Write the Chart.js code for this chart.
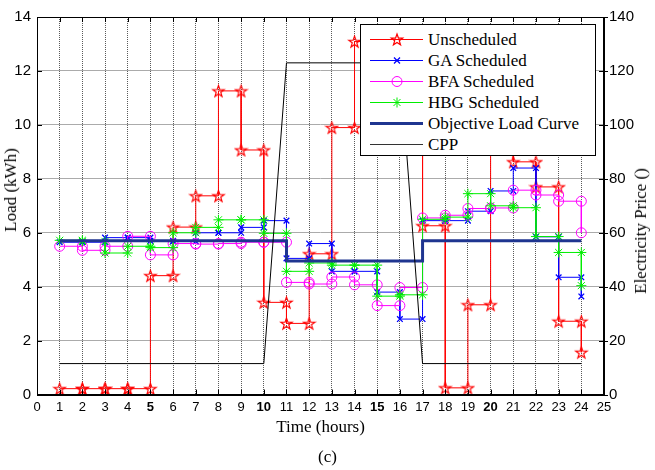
<!DOCTYPE html>
<html><head><meta charset="utf-8">
<script src="https://cdn.jsdelivr.net/npm/chart.js@4"></script>
<style>
html,body{margin:0;padding:0;background:#fff;}
#wrap{position:relative;width:655px;height:470px;overflow:hidden;}
#c{position:absolute;left:0;top:0;}
.ytitle{position:absolute;font-family:"Liberation Serif","Times New Roman",serif;font-size:17px;white-space:nowrap;color:#000;transform:translate(-50%,-50%) rotate(-90deg);}
#legend{position:absolute;left:360px;top:24px;width:236px;height:132px;background:#fff;border:1.5px solid #000;box-sizing:border-box;font-family:"Liberation Serif","Times New Roman",serif;font-size:17px;color:#000;}
.row{position:absolute;left:0;height:21px;width:234px;}
.row svg{position:absolute;left:9px;top:0;}
.row span{position:absolute;left:67px;top:0;line-height:21px;white-space:nowrap;}
</style></head>
<body>
<div id="wrap">
<canvas id="c" width="655" height="470"></canvas>
<div class="ytitle" style="left:11px;top:190px;">Load (kWh)</div>
<div class="ytitle" style="left:641px;top:231px;">Electricity Price ()</div>
<div id="legend"></div>
</div>
<script>
// ---- data (hourly values) ----
const hours = [1,2,3,4,5,6,7,8,9,10,11,12,13,14,15,16,17,18,19,20,21,22,23,24];
const unscheduled = [0.22,0.22,0.22,0.22,4.41,6.21,7.37,11.26,9.07,3.42,2.64,5.22,9.9,13.09,11.8,9.8,6.26,0.25,3.33,10.2,8.63,7.7,2.72,1.57];
const gaScheduled = [5.65,5.65,5.82,5.82,5.7,5.68,6.0,6.0,6.2,6.45,5.05,5.6,4.57,4.57,3.8,2.8,6.45,6.45,6.8,7.55,8.4,5.85,4.35,3.64];
const bfaScheduled = [5.5,5.35,5.5,5.87,5.18,5.6,5.58,5.6,5.65,5.65,4.16,4.1,4.36,4.07,3.3,3.97,6.55,6.65,6.9,6.92,7.58,7.4,7.17,6.0];
const hbgScheduled = [5.72,5.68,5.25,5.5,5.45,6.0,6.2,6.48,6.48,5.98,4.57,4.88,4.8,4.8,3.65,3.7,6.5,6.58,7.45,7.0,6.93,5.86,5.27,4.04];
const objectiveLoad = [5.7,5.7,5.7,5.7,5.7,5.7,5.7,5.7,5.7,5.7,4.95,4.95,4.95,4.95,4.95,4.95,5.7,5.7,5.7,5.7,5.7,5.7,5.7,5.7];
const cppPrice = [11.5,11.5,11.5,11.5,11.5,11.5,11.5,11.5,11.5,11.5,123,123,123,123,123,123,11.5,11.5,11.5,11.5,11.5,11.5,11.5,11.5];
const seriesNames = ['Unscheduled','GA Scheduled','BFA Scheduled','HBG Scheduled','Objective Load Curve','CPP'];
const boldHourLabels = [5,10,15,20];

// MATLAB-style stairs vertices
function stairs(xs, ys){
  const pts = [];
  for (let i = 0; i < xs.length; i++) {
    pts.push({x: xs[i], y: ys[i]});
    if (i < xs.length - 1) pts.push({x: xs[i+1], y: ys[i]});
  }
  return pts;
}
function pairs(xs, ys){ return xs.map((x,i)=>({x:x, y:ys[i]})); }

function starPoints(cx, cy, R){
  const r = R*0.4, p = [];
  for (let k = 0; k < 10; k++) {
    const a = -Math.PI/2 + k*Math.PI/5, rr = (k%2) ? r : R;
    p.push([cx + rr*Math.cos(a), cy + rr*Math.sin(a)]);
  }
  return p;
}
function makeStar(color, R){
  const s = Math.ceil(R*2 + 3);
  const c = document.createElement('canvas'); c.width = s; c.height = s;
  const g = c.getContext('2d');
  g.strokeStyle = color; g.lineWidth = 1.2;
  g.beginPath();
  starPoints(s/2, s/2 + 0.6, R).forEach((q,i)=> i ? g.lineTo(q[0],q[1]) : g.moveTo(q[0],q[1]));
  g.closePath(); g.stroke();
  return c;
}
const redStar = makeStar('#ff0000', 6);

const C = {red:'#ff0000', blue:'#0000ff', mag:'#ff00ff', green:'#00ee00', navy:'#1f3590', black:'#000000'};
const sans = '"Liberation Sans", Arial, sans-serif';
const serif = '"Liberation Serif", "Times New Roman", serif';

const frame = {
  id: 'frame',
  afterDatasetsDraw(chart){
    const {ctx, chartArea: a, scales} = chart;
    ctx.save();
    ctx.setLineDash([]);
    ctx.strokeStyle = '#000';
    ctx.lineWidth = 1;
    ctx.beginPath();
    scales.x.ticks.forEach(t => {
      const px = Math.round(scales.x.getPixelForValue(t.value)) + 0.5;
      ctx.moveTo(px, a.bottom); ctx.lineTo(px, a.bottom - 5);
      ctx.moveTo(px, a.top); ctx.lineTo(px, a.top + 5);
    });
    scales.y.ticks.forEach(t => {
      const py = Math.round(scales.y.getPixelForValue(t.value)) + 0.5;
      ctx.moveTo(a.left, py); ctx.lineTo(a.left + 5, py);
    });
    scales.y2.ticks.forEach(t => {
      const py = Math.round(scales.y2.getPixelForValue(t.value)) + 0.5;
      ctx.moveTo(a.right - 5, py); ctx.lineTo(a.right + 4, py);
    });
    ctx.stroke();
    ctx.lineWidth = 1;
    ctx.strokeRect(Math.round(a.left)+0.5, Math.round(a.top)+0.5, Math.round(a.right-a.left)-1, Math.round(a.bottom-a.top)-1);
    ctx.lineWidth = 2;
    ctx.beginPath();
    ctx.moveTo(a.left, Math.round(a.bottom)); ctx.lineTo(a.right+1, Math.round(a.bottom));
    ctx.moveTo(Math.round(a.right), a.top); ctx.lineTo(Math.round(a.right), a.bottom+1);
    ctx.stroke();
    ctx.restore();
  }
};

new Chart(document.getElementById('c'), {
  type: 'line',
  data: {
    datasets: [
      {label: seriesNames[0], data: stairs(hours, unscheduled), borderColor: C.red, borderWidth: 1,
       pointStyle: redStar, pointRadius: 6, order: 6},
      {label: seriesNames[1], data: stairs(hours, gaScheduled), borderColor: C.blue, borderWidth: 1,
       pointStyle: 'crossRot', pointRadius: 4, pointBorderColor: C.blue, pointBorderWidth: 1.3, order: 5},
      {label: seriesNames[2], data: stairs(hours, bfaScheduled), borderColor: C.mag, borderWidth: 1,
       pointStyle: 'circle', pointRadius: 5, pointBackgroundColor: 'rgba(0,0,0,0)', pointBorderColor: C.mag, pointBorderWidth: 1, order: 4},
      {label: seriesNames[3], data: stairs(hours, hbgScheduled), borderColor: C.green, borderWidth: 1,
       pointStyle: 'star', pointRadius: 5, pointBorderColor: C.green, pointBorderWidth: 1, order: 3},
      {label: seriesNames[4], data: stairs(hours, objectiveLoad), borderColor: C.navy, borderWidth: 3,
       pointRadius: 0, order: 2},
      {label: seriesNames[5], data: pairs(hours, cppPrice), borderColor: C.black, borderWidth: 1,
       pointRadius: 0, yAxisID: 'y2', order: 1}
    ]
  },
  options: {
    responsive: false,
    animation: false,
    layout: {padding: {top: 17, left: 0, right: 0, bottom: 0}},
    plugins: {
      legend: {display: false},
      tooltip: {enabled: false},
      subtitle: {display: true, text: '(c)', position: 'bottom', color: '#000',
        font: {family: serif, size: 17, weight: 'normal'}, padding: {top: 6, bottom: 2}}
    },
    scales: {
      x: {
        type: 'linear', min: 0, max: 25,
        afterFit: s => { s.height = 47; },
        ticks: {stepSize: 1, autoSkip: false, maxRotation: 0, padding: 5, color: '#000',
          font: ctx => ({family: sans, size: 13, weight: boldHourLabels.includes(ctx.tick && ctx.tick.value) ? 'bold' : 'normal'})},
        grid: {color: '#5a5a5a', lineWidth: 1, drawTicks: false},
        border: {display: false, dash: [1, 1]},
        title: {display: true, text: 'Time (hours)', color: '#000', font: {family: serif, size: 17}, padding: {top: 0, bottom: 4}}
      },
      y: {
        position: 'left', min: 0, max: 14,
        afterFit: s => { s.width = 37; },
        ticks: {stepSize: 2, padding: 6, color: '#000', font: {family: sans, size: 15}},
        grid: {color: '#ababab', lineWidth: 1, drawTicks: false},
        border: {display: false}
      },
      y2: {
        position: 'right', min: 0, max: 140,
        afterFit: s => { s.width = 51; },
        ticks: {stepSize: 20, padding: 5, color: '#000', font: {family: sans, size: 15}},
        grid: {display: false, drawTicks: false},
        border: {display: false}
      }
    }
  },
  plugins: [frame]
});

// HTML legend inside the plot area (drawn over the data like the reference)
(function(){
  const leg = document.getElementById('legend');
  const cols = [C.red, C.blue, C.mag, C.green, C.navy, '#333'];
  seriesNames.forEach((name, i) => {
    const row = document.createElement('div');
    row.className = 'row';
    row.style.top = (4 + 21*i) + 'px';
    let marker = '';
    const cx = 27, cy = 10.5, col = cols[i];
    if (i === 0) marker = '<polygon fill="none" stroke="'+col+'" stroke-width="1.2" points="'+starPoints(cx, cy+0.5, 6).map(q=>q.join(',')).join(' ')+'"/>';
    if (i === 1) marker = '<path stroke="'+col+'" stroke-width="1.3" d="M'+(cx-3)+' '+(cy-3)+' L'+(cx+3)+' '+(cy+3)+' M'+(cx-3)+' '+(cy+3)+' L'+(cx+3)+' '+(cy-3)+'"/>';
    if (i === 2) marker = '<circle cx="'+cx+'" cy="'+cy+'" r="5" fill="none" stroke="'+col+'" stroke-width="1"/>';
    if (i === 3) marker = '<path stroke="'+col+'" stroke-width="1" d="M'+(cx-5)+' '+cy+' L'+(cx+5)+' '+cy+' M'+cx+' '+(cy-5)+' L'+cx+' '+(cy+5)+' M'+(cx-3.5)+' '+(cy-3.5)+' L'+(cx+3.5)+' '+(cy+3.5)+' M'+(cx-3.5)+' '+(cy+3.5)+' L'+(cx+3.5)+' '+(cy-3.5)+'"/>';
    const w = (i === 4) ? 3 : 1;
    row.innerHTML = '<svg width="54" height="21"><line x1="0" y1="'+cy+'" x2="53" y2="'+cy+'" stroke="'+col+'" stroke-width="'+w+'"/>'+marker+'</svg><span>'+name+'</span>';
    leg.appendChild(row);
  });
})();
</script>
</body></html>
